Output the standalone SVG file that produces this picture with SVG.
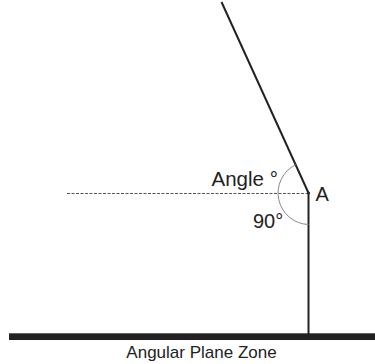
<svg xmlns="http://www.w3.org/2000/svg" width="375" height="364" viewBox="0 0 375 364">
<style>
.ln{stroke:#222;stroke-width:2;fill:none}
.t{font-family:"Liberation Sans",Arial,sans-serif;fill:#222}
</style>
<rect width="375" height="364" fill="#fff"/>
<g id="connectors">
<line class="ln" x1="221.5" y1="2" x2="308.5" y2="193"/>
<line class="ln" x1="308.5" y1="193" x2="308.5" y2="334"/>
<line x1="67" y1="193.5" x2="308" y2="193.5" stroke="#555" stroke-width="1.2" stroke-dasharray="3 1.5"/>
<path d="M 295.6 164.8 A 31.5 31.5 0 0 0 308.5 224.5" fill="none" stroke="#888" stroke-width="1"/>
</g>
<g id="ground">
<rect x="9" y="333.3" width="366" height="6.7" fill="#222"/>
<text class="t" x="201.5" y="358" font-size="17" text-anchor="middle">Angular Plane Zone</text>
</g>
<g id="pointA">
<circle cx="308.5" cy="193" r="1.5" fill="#222"/>
<text class="t" x="315.5" y="200.5" font-size="20">A</text>
</g>
<g id="labels">
<text class="t" x="211.5" y="186" font-size="20.5">Angle °</text>
<text class="t" x="253" y="228.3" font-size="20">90°</text>
</g>
</svg>
